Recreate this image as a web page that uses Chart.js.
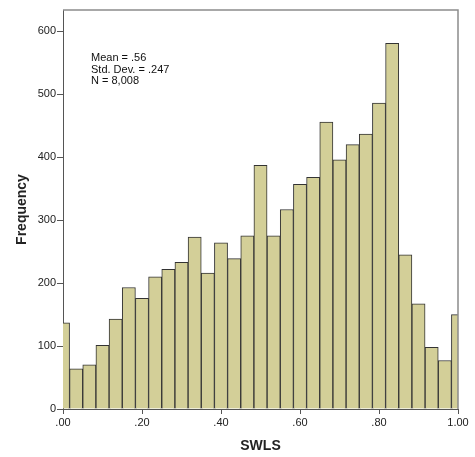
<!DOCTYPE html>
<html>
<head>
<meta charset="utf-8">
<script src="https://cdn.jsdelivr.net/npm/chart.js@4"></script>
<style>
  html, body { margin: 0; padding: 0; background: #fff; }
  #wrap { width: 475px; height: 457px; }
</style>
</head>
<body>
<div id="wrap"><canvas id="hist"></canvas></div>
<script>
// histogram of SWLS, 31 bins of width 1/30 centred on 0 .. 1
const binWidth = 1 / 30;
const counts = [
  137, 64, 70, 101, 143, 193, 176, 210, 222, 233, 273, 216, 264, 239, 275, 387,
  275, 317, 357, 368, 456, 396, 420, 437, 486, 581, 245, 167, 98, 77, 150
];
const binCenters = counts.map((_, i) => i * binWidth);
const xTicks = [0, 0.2, 0.4, 0.6, 0.8, 1.0];
const yTicks = [0, 100, 200, 300, 400, 500, 600];
const statsText = ["Mean = .56", "Std. Dev. = .247", "N = 8,008"];

const fontFam = "'Liberation Sans', Arial, sans-serif";

// gray frame + stats box
const framePlugin = {
  id: "frame",
  afterDatasetsDraw(chart) {
    const { ctx, chartArea: a } = chart;
    ctx.save();
    ctx.strokeStyle = "#8c8c8c";
    ctx.lineWidth = 1.5;
    ctx.beginPath();
    ctx.moveTo(a.left, a.top);
    ctx.lineTo(a.right, a.top);
    ctx.lineTo(a.right, a.bottom);
    ctx.stroke();

    ctx.fillStyle = "#111";
    ctx.font = "11px " + fontFam;
    ctx.textBaseline = "middle";
    statsText.forEach((t, i) => {
      ctx.fillText(t, 91, 58 + i * 11.5);
    });
    ctx.restore();
  }
};

new Chart(document.getElementById("hist"), {
  type: "bar",
  data: {
    datasets: [{
      data: counts.map((c, i) => ({ x: binCenters[i], y: c })),
      backgroundColor: "#d3cf98",
      borderColor: "#333",
      borderWidth: 1,
      barPercentage: 1,
      categoryPercentage: 1,
      clip: 0
    }]
  },
  options: {
    responsive: true,
    maintainAspectRatio: false,
    animation: false,
    layout: { padding: { top: 10, right: 17, bottom: 0, left: 0 } },
    plugins: {
      legend: { display: false },
      tooltip: { enabled: false }
    },
    scales: {
      x: {
        type: "linear",
        min: 0,
        max: 1,
        offset: false,
        afterBuildTicks: s => { s.ticks = xTicks.map(v => ({ value: v })); },
        afterFit: s => { s.height = 48; },
        grid: { offset: false, drawOnChartArea: false, tickLength: 5, tickColor: "#555" },
        border: { color: "#555", width: 1 },
        ticks: {
          padding: 2,
          maxRotation: 0,
          color: "#222",
          font: { family: fontFam, size: 11 },
          callback: v => v === 1 ? "1.00" : v.toFixed(2).replace(/^0/, "")
        },
        title: {
          display: true,
          text: "SWLS",
          color: "#222",
          font: { family: fontFam, size: 14, weight: "bold" },
          padding: { top: 0, bottom: 2 }
        }
      },
      y: {
        min: 0,
        max: 634,
        afterBuildTicks: s => { s.ticks = yTicks.map(v => ({ value: v })); },
        afterFit: s => { s.width = 63; },
        grid: { drawOnChartArea: false, tickLength: 6, tickColor: "#555" },
        border: { color: "#555", width: 1 },
        ticks: {
          padding: 1,
          color: "#222",
          font: { family: fontFam, size: 11 }
        },
        title: {
          display: true,
          text: "Frequency",
          color: "#222",
          font: { family: fontFam, size: 14, weight: "bold" },
          padding: { top: 14, bottom: 0 }
        }
      }
    }
  },
  plugins: [framePlugin]
});
</script>
</body>
</html>
